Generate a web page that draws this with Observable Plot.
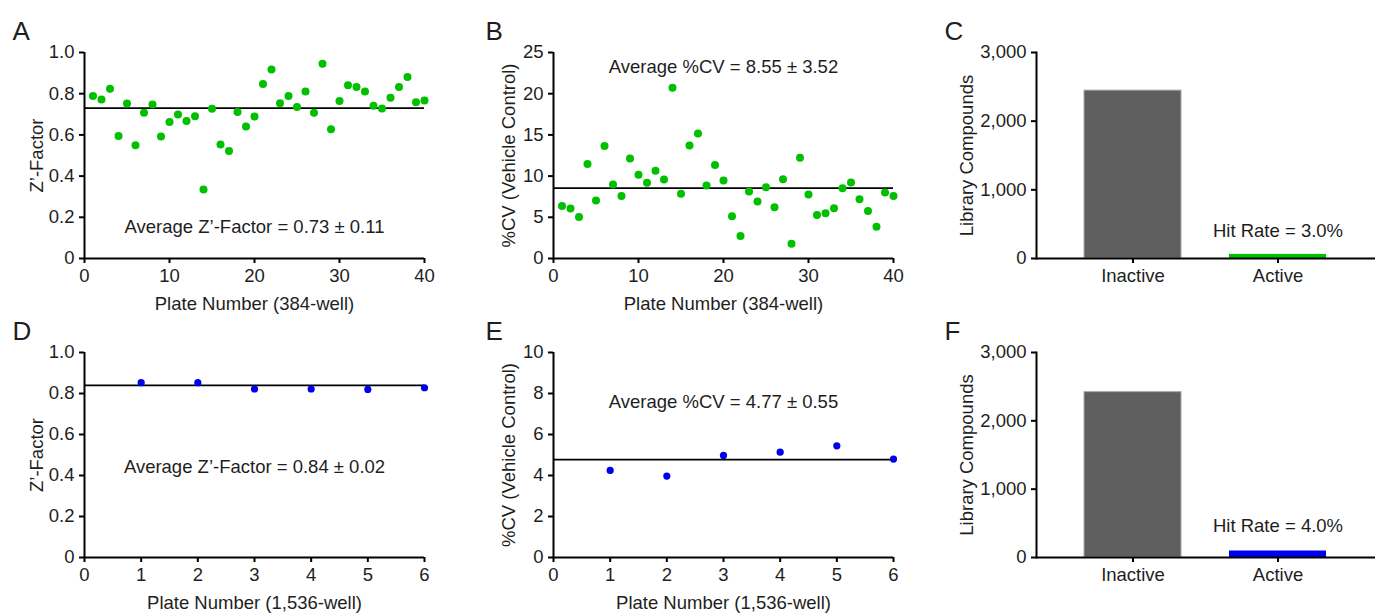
<!DOCTYPE html>
<html><head><meta charset="utf-8">
<script src="https://cdn.jsdelivr.net/npm/d3@7"></script>
<script src="https://cdn.jsdelivr.net/npm/@observablehq/plot@0.6"></script>
<style>
body{margin:0;background:#fff;}
#wrap{position:relative;width:1375px;height:613px;overflow:hidden;background:#fff;}
#wrap > div{position:absolute;}
</style></head><body><div id="wrap"></div>
<script>
// ---- data ----
const plates384 = [1,2,3,4,5,6,7,8,9,10,11,12,13,14,15,16,17,18,19,20,21,22,23,24,25,26,27,28,29,30,31,32,33,34,35,36,37,38,39,40];
const zFactor384 = [0.789,0.772,0.824,0.595,0.753,0.550,0.707,0.748,0.592,0.663,0.699,0.667,0.691,0.335,0.727,0.554,0.522,0.711,0.641,0.689,0.847,0.917,0.754,0.789,0.735,0.811,0.707,0.945,0.628,0.764,0.841,0.833,0.811,0.741,0.728,0.780,0.833,0.881,0.758,0.767];
const cv384 = [6.38,6.06,5.04,11.46,7.03,13.66,8.98,7.60,12.15,10.16,9.19,10.65,9.59,20.73,7.85,13.70,15.16,8.86,11.34,9.47,5.12,2.72,8.13,6.91,8.66,6.22,9.63,1.79,12.24,7.76,5.28,5.49,6.10,8.54,9.23,7.20,5.77,3.86,8.01,7.60];
const plates1536 = [1,2,3,4,5,6];
const zFactor1536 = [0.853,0.853,0.822,0.822,0.820,0.828];
const cv1536 = [4.25,3.97,4.98,5.14,5.45,4.80];
const categories = ["Inactive","Active"];
const compounds384 = [2445, 60];
const compounds1536 = [2420, 95];
const means = {zA: 0.73, cvB: 8.55, zD: 0.84, cvE: 4.77};
const notes = {
  A: "Average Z\u2019-Factor = 0.73 \u00b1 0.11",
  B: "Average %CV = 8.55 \u00b1 3.52",
  C: "Hit Rate = 3.0%",
  D: "Average Z\u2019-Factor = 0.84 \u00b1 0.02",
  E: "Average %CV = 4.77 \u00b1 0.55",
  F: "Hit Rate = 4.0%"
};
const xTicks384 = [0,10,20,30,40];
const xTicks1536 = [0,1,2,3,4,5,6];
const zTicks = [0,0.2,0.4,0.6,0.8,1.0];
const cvTicksB = [0,5,10,15,20,25];
const cvTicksE = [0,2,4,6,8,10];
const countTicks = [0,1000,2000,3000];

// ---- styling ----
const FONT = "Liberation Sans, Arial, Helvetica, sans-serif";
const FS = 18.5;
const INK = "#1e1e1e";
const GREEN = "#00c000";
const BLUE = "#0000f0";
const wrap = document.getElementById("wrap");

function place(svg, left, top) {
  const d = document.createElement("div");
  d.style.left = left + "px"; d.style.top = top + "px";
  d.appendChild(svg); wrap.appendChild(d);
}

function common(o) {
  return [
    Plot.text([o.letter], {frameAnchor: "top-left", dx: o.letterDx, dy: -13, text: d => d, fontSize: 26, textAnchor: "start", lineAnchor: "bottom", fill: INK}),
    Plot.text([o.yTitle], {frameAnchor: "left", dx: o.yTitleDx, rotate: -90, text: d => d, fontSize: FS, fill: INK, textAnchor: "middle", lineAnchor: "middle"}),
    o.xTitle ? Plot.text([o.xTitle], {frameAnchor: "bottom", dy: 46, text: d => d, fontSize: FS, fill: INK, textAnchor: "middle", lineAnchor: "middle"}) : null
  ];
}

const axisStyle = {tickSize: 5, tickPadding: 5, strokeWidth: 2, stroke: "#000", fill: INK, label: null, fontSize: FS};

function scatter(o) {
  const rows = o.xs.map((x, i) => ({x, y: o.ys[i]}));
  const chart = Plot.plot({
    width: o.width, height: o.height,
    marginLeft: o.mL, marginRight: o.mR, marginTop: o.mT, marginBottom: o.mB,
    style: {fontFamily: FONT, fontSize: FS + "px", color: INK, background: "transparent", overflow: "visible"},
    x: {domain: o.xDomain},
    y: {domain: o.yDomain},
    marks: [
      Plot.ruleY([o.mean], {stroke: "#000", strokeWidth: 1.8}),
      Plot.dot(rows, {x: "x", y: "y", r: o.r, fill: o.color, stroke: null}),
      Plot.axisY({...axisStyle, ticks: o.yTicks, tickFormat: o.yFmt}),
      Plot.axisX({...axisStyle, ticks: o.xTicks, tickFormat: d => String(d)}),
      Plot.ruleX([o.xDomain[0]], {stroke: "#000", strokeWidth: 2}),
      Plot.ruleY([o.yDomain[0]], {stroke: "#000", strokeWidth: 2}),
      Plot.text([o.note], {frameAnchor: o.noteAnchor, dy: o.noteDy, text: d => d, fontSize: FS, fill: INK, textAnchor: "middle", lineAnchor: "middle"}),
      ...common(o)
    ].filter(Boolean)
  });
  place(chart, o.left, o.top);
}

function bars(o) {
  const rows = categories.map((c, i) => ({c, v: o.values[i]}));
  const chart = Plot.plot({
    width: o.width, height: o.height,
    marginLeft: o.mL, marginRight: o.mR, marginTop: o.mT, marginBottom: o.mB,
    style: {fontFamily: FONT, fontSize: FS + "px", color: INK, background: "transparent", overflow: "visible"},
    x: {type: "band", domain: categories, padding: 0.33},
    y: {domain: [0, 3000]},
    marks: [
      Plot.barY(rows.filter(d => d.c === "Inactive"), {x: "c", y: "v", fill: "#5f5f5f", stroke: "#a8a8a8", strokeWidth: 1}),
      Plot.barY(rows.filter(d => d.c === "Active"), {x: "c", y: "v", fill: o.color}),
      Plot.axisY({...axisStyle, ticks: countTicks, tickFormat: d3.format(",")}),
      Plot.axisX({...axisStyle}),
      Plot.frame({anchor: "left", stroke: "#000", strokeWidth: 2}),
      Plot.ruleY([0], {stroke: "#000", strokeWidth: 2}),
      Plot.text([o.note], {x: () => "Active", frameAnchor: "bottom", dy: o.noteDy, text: d => d, fontSize: FS, fill: INK, textAnchor: "middle", lineAnchor: "middle"}),
      ...common(o)
    ].filter(Boolean)
  });
  place(chart, o.left, o.top);
}

const R1 = {top: 0, height: 315, mT: 52, mB: 57};
const R2 = {top: 315, height: 298, mT: 37, mB: 56};

scatter({...R1, left: 0, width: 470, mL: 84, mR: 46, xs: plates384, ys: zFactor384, mean: means.zA, color: GREEN, r: 4,
  xDomain: [0, 40], xTicks: xTicks384, yDomain: [0, 1], yTicks: zTicks, yFmt: d => d === 0 ? "0" : d.toFixed(1),
  yTitle: "Z\u2019-Factor", xTitle: "Plate Number (384-well)", letter: "A", letterDx: -72, yTitleDx: -47,
  note: notes.A, noteAnchor: "bottom", noteDy: -31.5});

scatter({...R1, left: 470, width: 460, mL: 83, mR: 37, xs: plates384, ys: cv384, mean: means.cvB, color: GREEN, r: 4,
  xDomain: [0, 40], xTicks: xTicks384, yDomain: [0, 25], yTicks: cvTicksB, yFmt: d => String(d),
  yTitle: "%CV (Vehicle Control)", xTitle: "Plate Number (384-well)", letter: "B", letterDx: -68, yTitleDx: -44,
  note: notes.B, noteAnchor: "top", noteDy: 14.5});

bars({...R1, left: 930, width: 445, mL: 106, mR: 0, values: compounds384, color: GREEN,
  yTitle: "Library Compounds", letter: "C", letterDx: -92, yTitleDx: -69, note: notes.C, noteDy: -27.5});

scatter({...R2, left: 0, width: 470, mL: 84, mR: 46, xs: plates1536, ys: zFactor1536, mean: means.zD, color: BLUE, r: 3.6,
  xDomain: [0, 6], xTicks: xTicks1536, yDomain: [0, 1], yTicks: zTicks, yFmt: d => d === 0 ? "0" : d.toFixed(1),
  yTitle: "Z\u2019-Factor", xTitle: "Plate Number (1,536-well)", letter: "D", letterDx: -72, yTitleDx: -47,
  note: notes.D, noteAnchor: "bottom", noteDy: -90});

scatter({...R2, left: 470, width: 460, mL: 83, mR: 37, xs: plates1536, ys: cv1536, mean: means.cvE, color: BLUE, r: 3.6,
  xDomain: [0, 6], xTicks: xTicks1536, yDomain: [0, 10], yTicks: cvTicksE, yFmt: d => String(d),
  yTitle: "%CV (Vehicle Control)", xTitle: "Plate Number (1,536-well)", letter: "E", letterDx: -68, yTitleDx: -44,
  note: notes.E, noteAnchor: "top", noteDy: 49.5});

bars({...R2, left: 930, width: 445, mL: 106, mR: 0, values: compounds1536, color: BLUE,
  yTitle: "Library Compounds", letter: "F", letterDx: -92, yTitleDx: -69, note: notes.F, noteDy: -31});
</script></body></html>
